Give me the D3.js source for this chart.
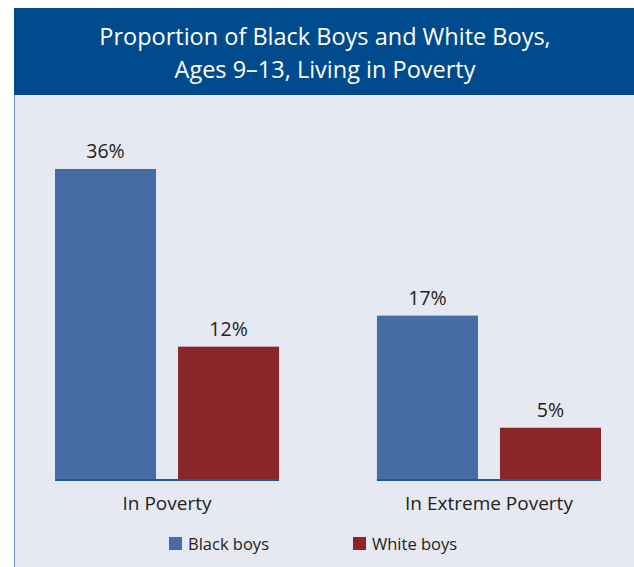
<!DOCTYPE html>
<html>
<head>
<meta charset="utf-8">
<script src="https://cdn.jsdelivr.net/npm/d3@7"></script>
<style>
  html, body { margin: 0; padding: 0; background: #ffffff; }
  svg { display: block; }
</style>
</head>
<body>
<svg id="chart" width="634" height="567"></svg>
<script>
// ---- Data ----
const titleLines = ["Proportion of Black Boys and White Boys,", "Ages 9\u201313, Living in Poverty"];
const categories = ["In Poverty", "In Extreme Poverty"];
const seriesNames = ["Black boys", "White boys"];
// printed value labels
const blackBoys = [36, 17];
const whiteBoys = [12, 5];
// bar lengths as drawn in the reference (the original is not to scale), in % units
const blackBoysDrawn = [36, 19];
const whiteBoysDrawn = [15.4, 6];

const colors = { "Black boys": "#456ca5", "White boys": "#8a2529" };

// ---- Layout ----
const W = 634, H = 567;
const svg = d3.select("#chart");
const font = "'Open Sans', 'Liberation Sans', sans-serif";

// background panel
svg.append("rect").attr("x", 14).attr("y", 95).attr("width", W - 14).attr("height", H - 95).attr("fill", "#e6e8f2");
svg.append("line").attr("x1", 14.5).attr("x2", 14.5).attr("y1", 95).attr("y2", H).attr("stroke", "#6f96c8").attr("stroke-width", 1);
// title banner
svg.append("rect").attr("x", 14).attr("y", 8).attr("width", W - 14).attr("height", 87).attr("fill", "#004b8d");
svg.selectAll("text.title").data(titleLines).enter().append("text")
  .attr("class", "title")
  .attr("x", 325).attr("y", (d, i) => 45 + i * 33)
  .attr("text-anchor", "middle")
  .attr("fill", "#ffffff")
  .style("font-family", font).style("font-size", "23.5px")
  .text(d => d);

const plot = { left: 55, right: 601, top: 169, bottom: 479.5 };

const x0 = d3.scaleBand().domain(categories).range([plot.left, plot.right]).paddingInner(0.304).paddingOuter(0);
const x1 = d3.scaleBand().domain(seriesNames).range([0, x0.bandwidth()]).paddingInner(0.179);
const y = d3.scaleLinear().domain([0, 36]).range([plot.bottom, plot.top]);

const rows = categories.map((c, i) => ({
  cat: c,
  vals: [
    { s: "Black boys", v: blackBoys[i], drawn: blackBoysDrawn[i] },
    { s: "White boys", v: whiteBoys[i], drawn: whiteBoysDrawn[i] }
  ]
}));

const g = svg.append("g");
const groups = g.selectAll("g.grp").data(rows).enter().append("g")
  .attr("class", "grp")
  .attr("transform", d => `translate(${x0(d.cat)},0)`);

groups.selectAll("rect").data(d => d.vals).enter().append("rect")
  .attr("x", d => x1(d.s))
  .attr("width", x1.bandwidth())
  .attr("y", d => y(d.drawn))
  .attr("height", d => y(0) - y(d.drawn))
  .attr("fill", d => colors[d.s]);

groups.selectAll("text.val").data(d => d.vals).enter().append("text")
  .attr("class", "val")
  .attr("x", d => x1(d.s) + x1.bandwidth() / 2)
  .attr("y", d => y(d.drawn) - 11)
  .attr("text-anchor", "middle")
  .attr("fill", "#231f20")
  .style("font-family", font).style("font-size", "19.5px")
  .text(d => d.v + "%");

// baselines per group
groups.append("line")
  .attr("x1", 0).attr("x2", x0.bandwidth())
  .attr("y1", y(0) + 0.5).attr("y2", y(0) + 0.5)
  .attr("stroke", "#1f5aa0").attr("stroke-width", 2);

// category labels
const xAxis = d3.axisBottom(x0).tickSize(0).tickPadding(0);
const ax = svg.append("g").attr("transform", `translate(0,${y(0)})`).call(xAxis);
ax.select(".domain").remove();
ax.selectAll("text")
  .attr("dy", null).attr("y", 30)
  .attr("fill", "#231f20")
  .style("font-family", font).style("font-size", "19px");

// legend
const legendX = [169, 353];
const leg = svg.selectAll("g.leg").data(seriesNames).enter().append("g")
  .attr("class", "leg")
  .attr("transform", (d, i) => `translate(${legendX[i]},537)`);
leg.append("rect").attr("width", 13).attr("height", 13).attr("fill", d => colors[d]);
leg.append("text").attr("x", 19).attr("y", 12.5)
  .attr("fill", "#231f20")
  .style("font-family", font).style("font-size", "16.5px")
  .text(d => d);
</script>
</body>
</html>
